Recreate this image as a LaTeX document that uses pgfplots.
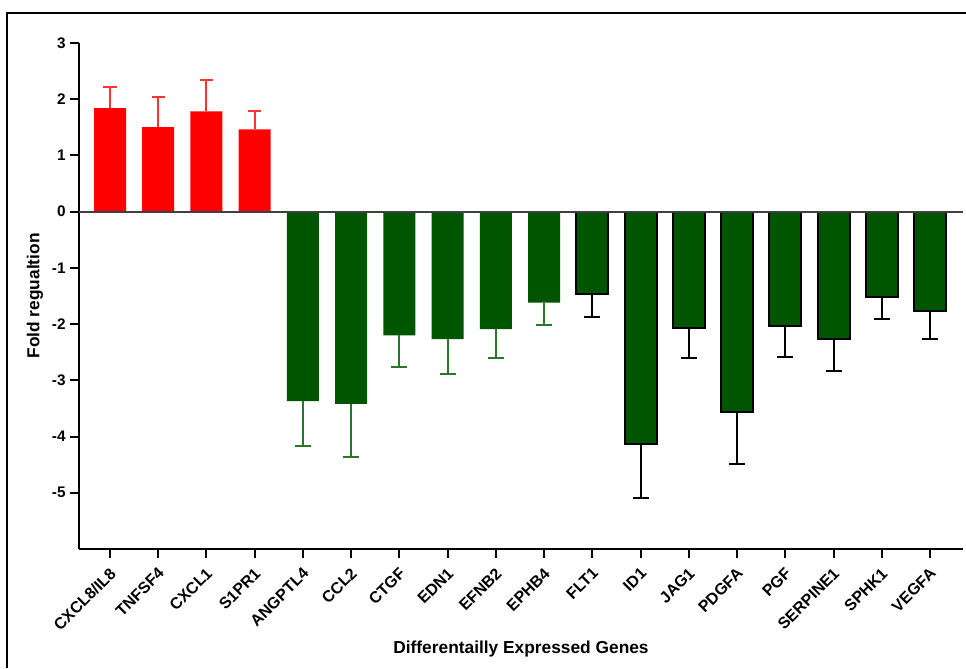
\documentclass[border=0pt]{standalone}
\usepackage{pgfplots}
\pgfplotsset{compat=1.18}
\usepackage{fontspec}
\setmainfont{Liberation Sans}
\definecolor{barred}{RGB}{255,0,0}
\definecolor{bargreen}{RGB}{0,85,0}
\definecolor{errgreen}{RGB}{40,120,40}
\definecolor{errred}{RGB}{255,50,50}
\begin{document}
\begin{tikzpicture}
\useasboundingbox (0,0) rectangle (724.5pt,-501pt);
\draw[line width=1.5pt] (5.5pt,-501pt) -- (5.5pt,-9.5pt) -- (724.5pt,-9.5pt);
\begin{axis}[
  at={(59.25pt,-411.75pt)}, anchor=south west,
  scale only axis, width=663pt, height=379.7pt,
  xmin=-0.643, xmax=17.685, ymin=-6, ymax=3,
  axis x line=bottom, axis y line=left,
  axis line style={-, line width=1.8pt},
  tick align=outside, major tick length=6.5pt,
  tick style={line width=1.5pt, black},
  ytick={-5,...,3},
  xtick={0,...,17},
  xticklabels={CXCL8/IL8,TNFSF4,CXCL1,S1PR1,ANGPTL4,CCL2,CTGF,EDN1,EFNB2,EPHB4,FLT1,ID1,JAG1,PDGFA,PGF,SERPINE1,SPHK1,VEGFA},
  /pgf/number format/assume math mode=true,
  yticklabel style={font=\fontsize{11.5}{12}\selectfont\bfseries},
  xticklabel style={font=\fontsize{12}{13}\selectfont\bfseries, xshift=3pt, yshift=-9pt, rotate=45, anchor=east, inner sep=1pt},
  xlabel={Differentailly Expressed Genes},
  ylabel={Fold regualtion},
  xlabel style={font=\fontsize{13}{14}\selectfont\bfseries, at={(axis description cs:0.5,-0.1975)}, anchor=center},
  ylabel style={font=\fontsize{13}{14}\selectfont\bfseries, at={(axis description cs:-0.0498,0.5)}, anchor=center, rotate=0},
  clip=false,
]
\addplot[ybar, bar width=24pt, bar shift=0pt, fill=barred, draw=none,
  error bars/.cd, y dir=plus, y explicit,
  error bar style={line width=1.5pt, errred},
  error mark options={rotate=90, mark size=5pt, line width=1.5pt, errred}]
  coordinates {
  (0,1.84) +- (0,0.38)
  (1,1.50) +- (0,0.54)
  (2,1.78) +- (0,0.55)
  (3,1.46) +- (0,0.33)
  };
\addplot[ybar, bar width=24pt, bar shift=0pt, fill=bargreen, draw=none,
  error bars/.cd, y dir=minus, y explicit,
  error bar style={line width=1.5pt, errgreen},
  error mark options={rotate=90, mark size=6pt, line width=1.5pt, errgreen}]
  coordinates {
  (4,-3.37) +- (0,0.79)
  (5,-3.42) +- (0,0.95)
  (6,-2.20) +- (0,0.56)
  (7,-2.27) +- (0,0.61)
  (8,-2.09) +- (0,0.51)
  (9,-1.62) +- (0,0.40)
  };
\addplot[ybar, bar width=24pt, bar shift=0pt, fill=bargreen, draw=black, line width=1.5pt,
  error bars/.cd, y dir=minus, y explicit,
  error bar style={line width=1.5pt, black},
  error mark options={rotate=90, mark size=6pt, line width=1.5pt, black}]
  coordinates {
  (10,-1.46) +- (0,0.42)
  (11,-4.13) +- (0,0.97)
  (12,-2.07) +- (0,0.53)
  (13,-3.56) +- (0,0.93)
  (14,-2.04) +- (0,0.54)
  (15,-2.26) +- (0,0.57)
  (16,-1.52) +- (0,0.39)
  (17,-1.76) +- (0,0.51)
  };
\draw[black!75, line width=1.5pt] (axis cs:-0.643,0) -- (axis cs:17.685,0);
\end{axis}
\end{tikzpicture}
\end{document}
